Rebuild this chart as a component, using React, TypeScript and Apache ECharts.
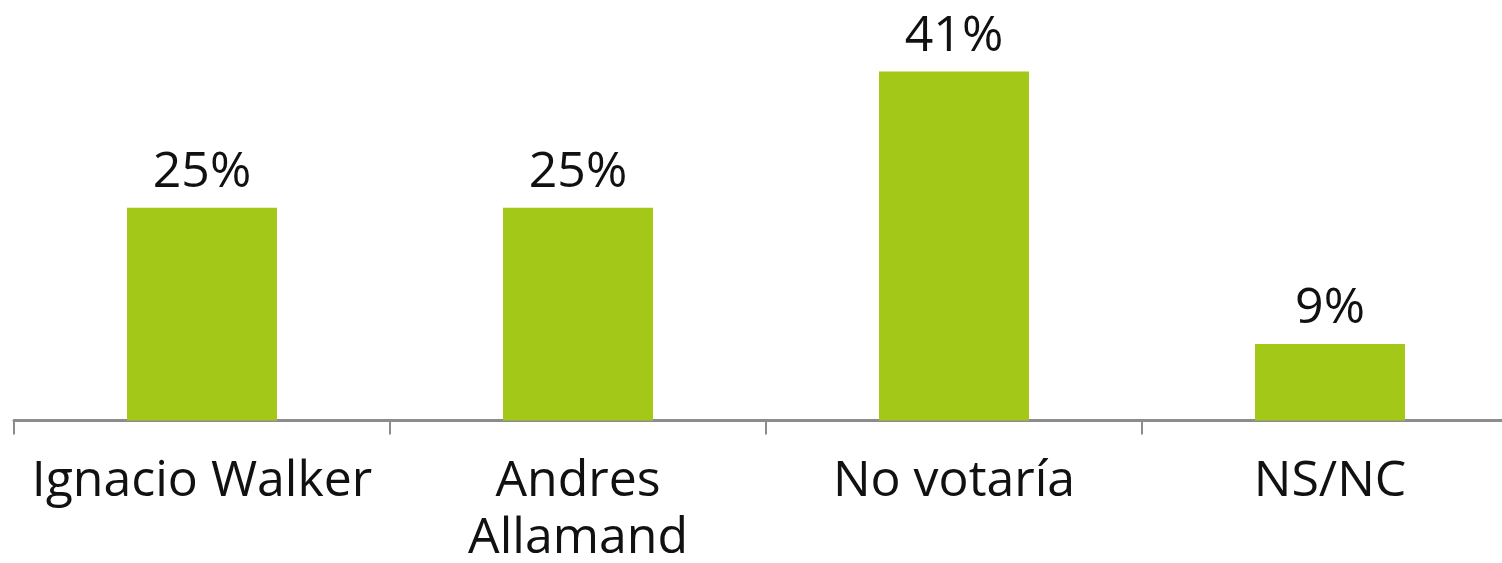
import React, { useEffect, useRef } from "react";
import * as echarts from "echarts";

const categories: string[] = ["Ignacio Walker", "Andres\nAllamand", "No votaría", "NS/NC"];
const values: number[] = [25, 25, 41, 9];

export default function App() {
  const ref = useRef<HTMLDivElement>(null);
  useEffect(() => {
    if (!ref.current) return;
    const chart = echarts.init(ref.current, null, { renderer: "svg" });
    chart.setOption({
      animation: false,
      grid: { left: 14, top: 37.5, right: 2, height: 383, containLabel: false },
      xAxis: {
        type: "category",
        data: categories,
        axisLine: { show: true, lineStyle: { color: "#8c8c8c", width: 3 } },
        axisTick: { show: true, length: 14, lineStyle: { color: "#8c8c8c", width: 2 } },
        axisLabel: {
          color: "#111",
          fontFamily: "Open Sans",
          fontSize: 50,
          lineHeight: 57,
          margin: 28,
          interval: 0,
        },
      },
      yAxis: {
        type: "value",
        min: 0,
        max: 45,
        show: false,
        splitLine: { show: false },
      },
      series: [
        {
          type: "bar",
          data: values,
          barWidth: 150,
          itemStyle: { color: "#A4C817" },
          label: {
            show: true,
            position: "top",
            distance: 20,
            lineHeight: 40,
            formatter: "{c}%",
            color: "#111",
            fontFamily: "Open Sans",
            fontSize: 50,
          },
        },
      ],
    });
    return () => chart.dispose();
  }, []);
  return (
    <div
      style={{ position: "absolute", left: 0, top: 0, width: 1502, height: 563, overflow: "hidden", background: "#fff" }}
    >
      <div ref={ref} style={{ width: 1520, height: 563 }} />
    </div>
  );
}
